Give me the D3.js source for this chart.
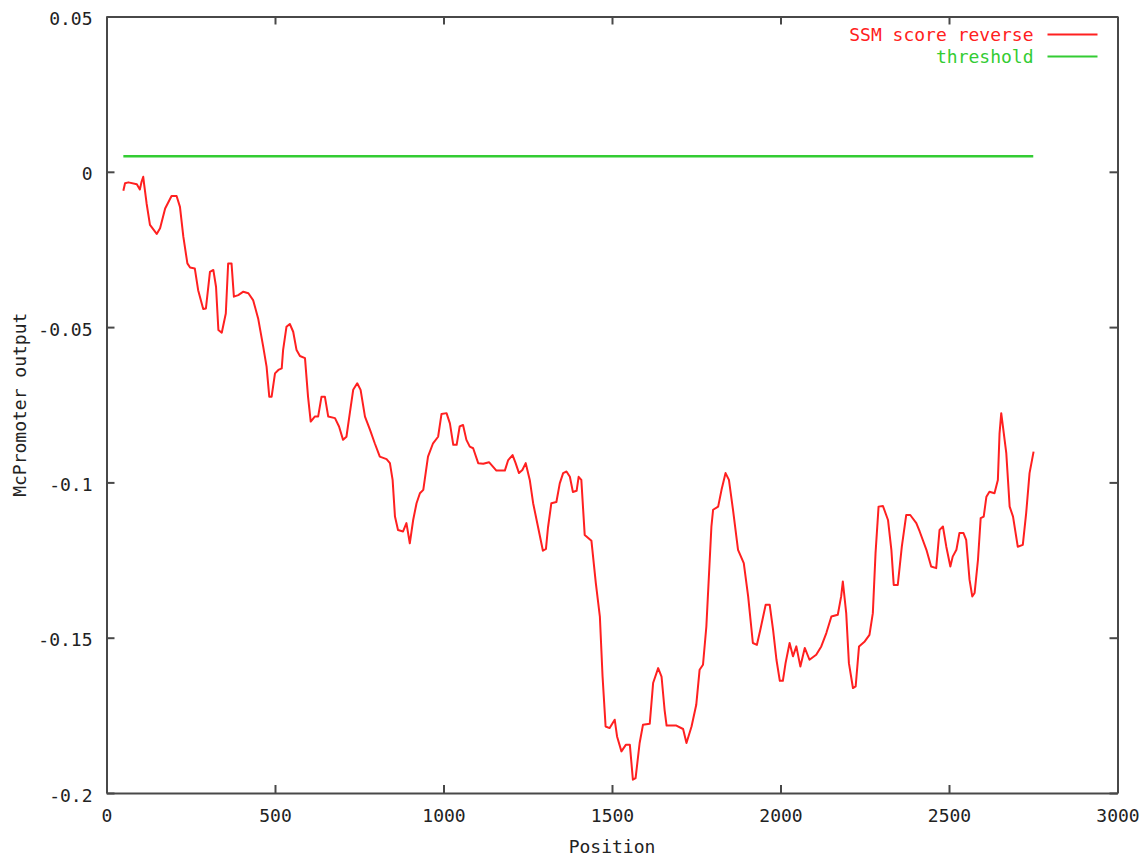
<html>
<head>
  <title>McPromoter output</title>
  <script src="https://d3js.org/d3.v7.min.js"></script>
</head>
<style>
  body { margin: 0; background: #fff; }
  text { font-family: "DejaVu Sans Mono", "Liberation Mono", monospace; fill: #222; }
</style>
<body>
<svg width="1143" height="860"></svg>
<script>

  // position along the sequence
  let positions = [50, 55, 65, 90, 99, 104, 109, 112, 119, 129, 149, 159, 174, 193, 208, 218, 228, 240, 248, 262,
    272, 287, 295, 307, 317, 325, 332, 342, 354, 361, 371, 378, 391, 406, 421, 435, 450, 465, 475, 483,
    490, 500, 510, 520, 524, 534, 544, 554, 564, 574, 589, 598, 606, 618, 628, 638, 648, 658, 678, 690,
    702, 712, 722, 732, 744, 754, 767, 782, 796, 811, 831, 841, 849, 856, 865, 880, 890, 900, 910, 920,
    930, 940, 954, 969, 984, 994, 1009, 1019, 1029, 1039, 1048, 1058, 1068, 1078, 1088, 1103, 1118, 1135, 1157, 1182,
    1192, 1205, 1214, 1224, 1234, 1244, 1256, 1266, 1281, 1295, 1304, 1310, 1320, 1335, 1345, 1355, 1365, 1375, 1384, 1395,
    1401, 1409, 1419, 1439, 1452, 1464, 1472, 1481, 1493, 1508, 1515, 1528, 1541, 1553, 1562, 1570, 1582, 1592, 1612, 1622,
    1637, 1647, 1656, 1662, 1691, 1711, 1721, 1736, 1750, 1760, 1770, 1780, 1795, 1800, 1815, 1825, 1837, 1847, 1859, 1874,
    1891, 1904, 1918, 1930, 1940, 1956, 1968, 1978, 1988, 1998, 2007, 2015, 2027, 2037, 2047, 2059, 2072, 2086, 2106, 2121,
    2136, 2151, 2170, 2180, 2185, 2195, 2203, 2215, 2223, 2233, 2250, 2264, 2274, 2282, 2291, 2304, 2319, 2329, 2336, 2348,
    2360, 2373, 2385, 2403, 2413, 2433, 2447, 2462, 2472, 2482, 2492, 2504, 2511, 2522, 2531, 2543, 2551, 2561, 2569, 2576,
    2586, 2594, 2603, 2611, 2620, 2635, 2645, 2650, 2655, 2660, 2670, 2680, 2690, 2704, 2719, 2729, 2739, 2751];

  // SSM score reverse
  let ssmScores = [-0.0061, -0.0037, -0.0034, -0.0040, -0.0057, -0.0032, -0.0016, -0.0043, -0.0102, -0.0171, -0.0200, -0.0182, -0.0118, -0.0078, -0.0078, -0.0113, -0.0209, -0.0295, -0.0308, -0.0311,
    -0.0381, -0.0442, -0.0440, -0.0322, -0.0316, -0.0370, -0.0509, -0.0518, -0.0456, -0.0295, -0.0295, -0.0402, -0.0397, -0.0386, -0.0391, -0.0413, -0.0472, -0.0563, -0.0627, -0.0724,
    -0.0724, -0.0649, -0.0638, -0.0633, -0.0574, -0.0499, -0.0490, -0.0515, -0.0574, -0.0593, -0.0600, -0.0724, -0.0804, -0.0788, -0.0788, -0.0724, -0.0724, -0.0788, -0.0793, -0.0820,
    -0.0863, -0.0853, -0.0777, -0.0702, -0.0681, -0.0702, -0.0788, -0.0831, -0.0874, -0.0917, -0.0925, -0.0938, -0.0992, -0.1110, -0.1153, -0.1158, -0.1131, -0.1196, -0.1121, -0.1067,
    -0.1035, -0.1024, -0.0917, -0.0874, -0.0853, -0.0780, -0.0777, -0.0810, -0.0879, -0.0879, -0.0820, -0.0815, -0.0863, -0.0885, -0.0890, -0.0938, -0.0940, -0.0935, -0.0962, -0.0962,
    -0.0928, -0.0912, -0.0938, -0.0970, -0.0960, -0.0938, -0.0992, -0.1067, -0.1146, -0.1220, -0.1214, -0.1146, -0.1067, -0.1063, -0.1003, -0.0970, -0.0965, -0.0982, -0.1031, -0.1027,
    -0.0982, -0.0992, -0.1169, -0.1188, -0.1324, -0.1432, -0.1625, -0.1786, -0.1791, -0.1764, -0.1818, -0.1866, -0.1845, -0.1845, -0.1957, -0.1952, -0.1839, -0.1780, -0.1777, -0.1646,
    -0.1598, -0.1625, -0.1732, -0.1783, -0.1783, -0.1794, -0.1839, -0.1786, -0.1716, -0.1603, -0.1587, -0.1464, -0.1142, -0.1088, -0.1078, -0.1024, -0.0970, -0.0992, -0.1088, -0.1217,
    -0.1260, -0.1367, -0.1517, -0.1523, -0.1475, -0.1394, -0.1394, -0.1475, -0.1571, -0.1639, -0.1639, -0.1582, -0.1517, -0.1560, -0.1528, -0.1593, -0.1533, -0.1571, -0.1555, -0.1528,
    -0.1485, -0.1432, -0.1426, -0.1367, -0.1319, -0.1421, -0.1582, -0.1662, -0.1657, -0.1528, -0.1512, -0.1491, -0.1421, -0.1228, -0.1078, -0.1076, -0.1121, -0.1217, -0.1330, -0.1330,
    -0.1207, -0.1105, -0.1105, -0.1131, -0.1158, -0.1217, -0.1271, -0.1276, -0.1153, -0.1142, -0.1207, -0.1271, -0.1239, -0.1217, -0.1163, -0.1163, -0.1185, -0.1314, -0.1367, -0.1356,
    -0.1249, -0.1115, -0.1110, -0.1046, -0.1030, -0.1035, -0.0992, -0.0842, -0.0777, -0.0820, -0.0906, -0.1078, -0.1110, -0.1207, -0.1201, -0.1099, -0.0970, -0.0901];

  // threshold line
  let thresholdPositions = [50, 2750];
  let thresholdValues = [0.005, 0.005];

  let xTicks = [0, 500, 1000, 1500, 2000, 2500, 3000];
  let xTickLabels = ["0", "500", "1000", "1500", "2000", "2500", "3000"];
  let yTicks = [-0.2, -0.15, -0.1, -0.05, 0, 0.05];
  let yTickLabels = ["-0.2", "-0.15", "-0.1", "-0.05", "0", "0.05"];
  let seriesNames = ["SSM score reverse", "threshold"];
  let seriesColors = ["#ff2020", "#33cc33"];

  let svg = d3.select("svg"),
      margin = {top: 16.5, right: 25.5, bottom: 67, left: 106.5},
      width = +svg.attr("width") - margin.left - margin.right,
      height = +svg.attr("height") - margin.top - margin.bottom,
      g = svg.append("g").attr("transform", "translate(" + margin.left + "," + margin.top + ")");

  let xScale = d3.scaleLinear().domain([0, 3000]).range([0, width]);
  let yScale = d3.scaleLinear().domain([-0.2, 0.05]).range([height, 0]);

  let tick = 8;
  let axisColor = "#484848";

  // bottom + left with labels, top + right mirror ticks only
  let xAxis = g.append("g").attr("transform", "translate(0," + height + ")")
      .call(d3.axisBottom(xScale).tickValues(xTicks).tickSizeInner(-tick).tickSizeOuter(0).tickPadding(16)
          .tickFormat((d, i) => xTickLabels[i]));
  let yAxis = g.append("g")
      .call(d3.axisLeft(yScale).tickValues(yTicks).tickSizeInner(-tick).tickSizeOuter(0).tickPadding(14)
          .tickFormat((d, i) => yTickLabels[i]));
  let topAxis = g.append("g")
      .call(d3.axisTop(xScale).tickValues(xTicks).tickSizeInner(-tick).tickSizeOuter(0).tickFormat(""));
  let rightAxis = g.append("g").attr("transform", "translate(" + width + ",0)")
      .call(d3.axisRight(yScale).tickValues(yTicks).tickSizeInner(-tick).tickSizeOuter(0).tickFormat(""));

  [xAxis, yAxis, topAxis, rightAxis].forEach(function (a) {
    a.selectAll("path.domain").attr("stroke", axisColor).attr("stroke-width", 2);
    a.selectAll(".tick line").attr("stroke", axisColor).attr("stroke-width", 2);
    a.selectAll("text").style("font-size", "18px").style("font-family", "DejaVu Sans Mono").attr("fill", "#333");
  });
  yAxis.selectAll("text").attr("dy", "0.45em");

  // lines
  let ssmData = positions.map((p, i) => ({x: p, y: ssmScores[i]}));
  let thrData = thresholdPositions.map((p, i) => ({x: p, y: thresholdValues[i]}));

  let line = d3.line()
      .x(function (d) { return xScale(d.x); })
      .y(function (d) { return yScale(d.y); });

  g.append("path")
      .attr("d", line(thrData))
      .attr("fill", "none")
      .attr("stroke", seriesColors[1])
      .attr("stroke-width", 2.5);

  g.append("path")
      .attr("d", line(ssmData))
      .attr("fill", "none")
      .attr("stroke", seriesColors[0])
      .attr("stroke-width", 2)
      .attr("stroke-linejoin", "round");

  // legend, top right inside the box
  let legend = g.selectAll(".legend")
      .data(seriesNames)
      .enter()
      .append("g")
      .attr("transform", (d, i) => "translate(0," + (18 + i * 22) + ")");

  legend.append("text")
      .attr("x", width - 84)
      .attr("dy", "0.35em")
      .attr("text-anchor", "end")
      .style("font-size", "18px")
      .style("fill", (d, i) => seriesColors[i])
      .text(d => d);

  legend.append("line")
      .attr("x1", width - 70)
      .attr("x2", width - 20)
      .attr("stroke", (d, i) => seriesColors[i])
      .attr("stroke-width", 2);

  // axis titles
  svg.append("text")
      .attr("x", margin.left + width / 2)
      .attr("y", 853)
      .attr("text-anchor", "middle")
      .style("font-size", "18px")
      .text("Position");

  svg.append("text")
      .attr("transform", "translate(26," + (margin.top + height / 2) + ") rotate(-90)")
      .attr("text-anchor", "middle")
      .style("font-size", "18px")
      .text("McPromoter output");

</script>
</body>
</html>
